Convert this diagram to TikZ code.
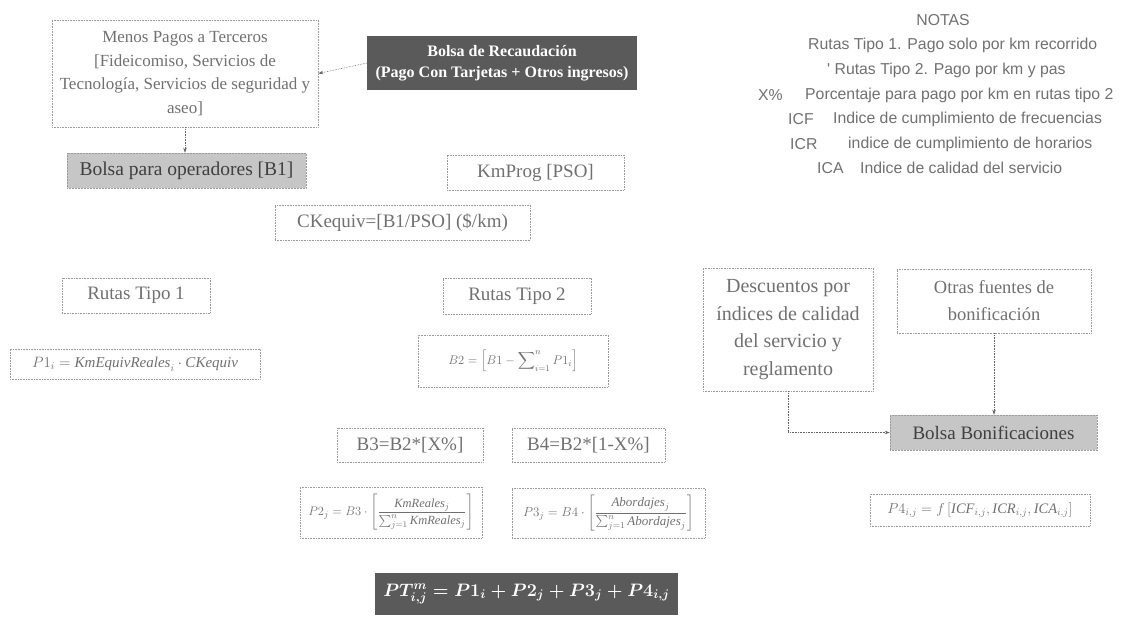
\RequirePackage{fix-cm}
\documentclass[tikz,border=0pt]{standalone}
\usepackage{fontspec}
\usepackage{amsmath}
\setmainfont{Liberation Serif}
\newfontfamily\notefont{Liberation Sans}
\usetikzlibrary{arrows.meta}
\definecolor{txtgray}{HTML}{707070}
\definecolor{linegray}{HTML}{9A9A9A}
\definecolor{darkfill}{HTML}{5A5A5A}
\definecolor{lightfill}{HTML}{C6C6C6}
\newcommand{\ptformula}{$\boldsymbol{PT^{m}_{i,j} = P1_{i} + P2_{j} + P3_{j} + P4_{i,j}}$}
\tikzset{
  dotbox/.style 2 args={draw=linegray, densely dotted, line width=0.6pt, text=txtgray,
    minimum width=#1, minimum height=#2, inner sep=0pt, align=center,
    font=\fontsize{19}{25}\selectfont},
  graybox/.style 2 args={draw=linegray, densely dotted, line width=0.5pt, fill=lightfill, text=black!75,
    minimum width=#1, minimum height=#2, inner sep=0pt, align=center,
    font=\fontsize{19}{22}\selectfont},
  darkbox/.style 2 args={fill=darkfill, text=white,
    minimum width=#1, minimum height=#2, inner sep=0pt, align=center},
  formula/.style={text=txtgray},
  conn/.style={draw=black!60, densely dotted, line width=0.6pt, -{Stealth[length=5pt,width=3.5pt]}},
  note/.style={text=txtgray, font=\notefont\fontsize{15.8}{18}\selectfont, inner sep=0pt, anchor=west}
}
\begin{document}
\begin{tikzpicture}[x=1pt,y=-1pt]
\useasboundingbox (0,0) rectangle (1135,627);

% top-left boxes
\node[dotbox={266pt}{107pt}, font=\fontsize{17}{23.5}\selectfont] (menos) at (185,73.5)
  {Menos Pagos a Terceros\\{}[Fideicomiso, Servicios de\\Tecnología, Servicios de seguridad y\\aseo]};
\node[darkbox={270pt}{54pt}, font=\bfseries\fontsize{16}{21}\selectfont] (recaud) at (502,63)
  {Bolsa de Recaudación\\(Pago Con Tarjetas + Otros ingresos)};
\node[graybox={239pt}{35pt}, font=\fontsize{19.5}{22}\selectfont] (b1) at (186.5,170.5) {Bolsa para operadores [B1]};
\node[dotbox={177pt}{35pt}] (kmprog) at (535.5,172.5) {KmProg [PSO]};
\node[dotbox={255pt}{35pt}] (ckequiv) at (402.5,222.5) {CKequiv=[B1/PSO] (\$/km)};

% routes
\node[dotbox={148pt}{35pt}] (rt1) at (136,295.5) {Rutas Tipo 1};
\node[dotbox={250pt}{30pt}, formula, font=\fontsize{15}{17}\selectfont] (p1) at (135,364)
  {$P1_i = \mathit{KmEquivReales}_i \cdot \mathit{CKequiv}$};
\node[dotbox={148pt}{36pt}] (rt2) at (517,296) {Rutas Tipo 2};
\node[dotbox={190pt}{52pt}, formula, font=\fontsize{12.5}{15}\selectfont] (b2) at (513,361)
  {$B2 = \left[B1 - \displaystyle\sum\nolimits_{i=1}^{n} P1_i\right]$};
\node[dotbox={146pt}{34pt}] (b3) at (410,445) {B3=B2*[X\%]};
\node[dotbox={153pt}{34pt}] (b4) at (588.5,445) {B4=B2*[1-X\%]};
\node[dotbox={182pt}{51pt}, formula, font=\fontsize{12.5}{15}\selectfont] (p2) at (391,512.5)
  {$P2_j = B3 \cdot \left[\dfrac{\mathit{KmReales}_j}{\sum_{j=1}^{n}\mathit{KmReales}_j}\right]$};
\node[dotbox={193pt}{50pt}, formula, font=\fontsize{13}{15}\selectfont] (p3) at (608.5,513)
  {$P3_j = B4 \cdot \left[\dfrac{\mathit{Abordajes}_j}{\sum_{j=1}^{n}\mathit{Abordajes}_j}\right]$};

% bonus
\node[dotbox={170pt}{123pt}, font=\fontsize{20}{27.5}\selectfont] (desc) at (788,329.5)
  {Descuentos por\\índices de calidad\\del servicio y\\reglamento};
\node[dotbox={194pt}{64pt}, font=\fontsize{18.5}{27}\selectfont] (otras) at (994,301)
  {Otras fuentes de\\bonificación};
\node[graybox={207pt}{35pt}] (bonif) at (993.5,432.5) {Bolsa Bonificaciones};
\node[dotbox={220pt}{32pt}, formula, font=\fontsize{14.5}{17}\selectfont] (p4) at (980,510)
  {$P4_{i,j} = f\left[\mathit{ICF}_{i,j}, \mathit{ICR}_{i,j}, \mathit{ICA}_{i,j}\right]$};

% final
\node[darkbox={303pt}{42pt}, font=\fontsize{18}{22}\selectfont] (ptotal) at (526.5,594) {\ptformula};

% connectors
\draw[conn] (recaud.west) -- (menos.east);
\draw[conn] (menos.south) -- (menos.south |- b1.north);
\draw[conn] (desc.south) |- (bonif.west);
\draw[conn] (otras.south) -- (otras.south |- bonif.north);

% notes
\node[text=txtgray, font=\notefont\fontsize{15.8}{18}\selectfont, inner sep=0pt] (notas) at (943,20) {NOTAS};
\node[note] (n1) at (808,45) {Rutas Tipo 1. Pago solo por km recorrido};
\node[note] (n2) at (827,70) {' Rutas Tipo 2. Pago por km y pas};
\node[note] (n3a) at (758,95) {X\%};
\node[note] (n3b) at (805,95) {Porcentaje para pago por km en rutas tipo 2};
\node[note] (n4a) at (788,119) {ICF};
\node[note] (n4b) at (833,119) {Indice de cumplimiento de frecuencias};
\node[note] (n5a) at (790,144) {ICR};
\node[note] (n5b) at (848,144) {indice de cumplimiento de horarios};
\node[note] (n6a) at (817,168) {ICA};
\node[note] (n6b) at (860,168) {Indice de calidad del servicio};
\end{tikzpicture}
\end{document}
